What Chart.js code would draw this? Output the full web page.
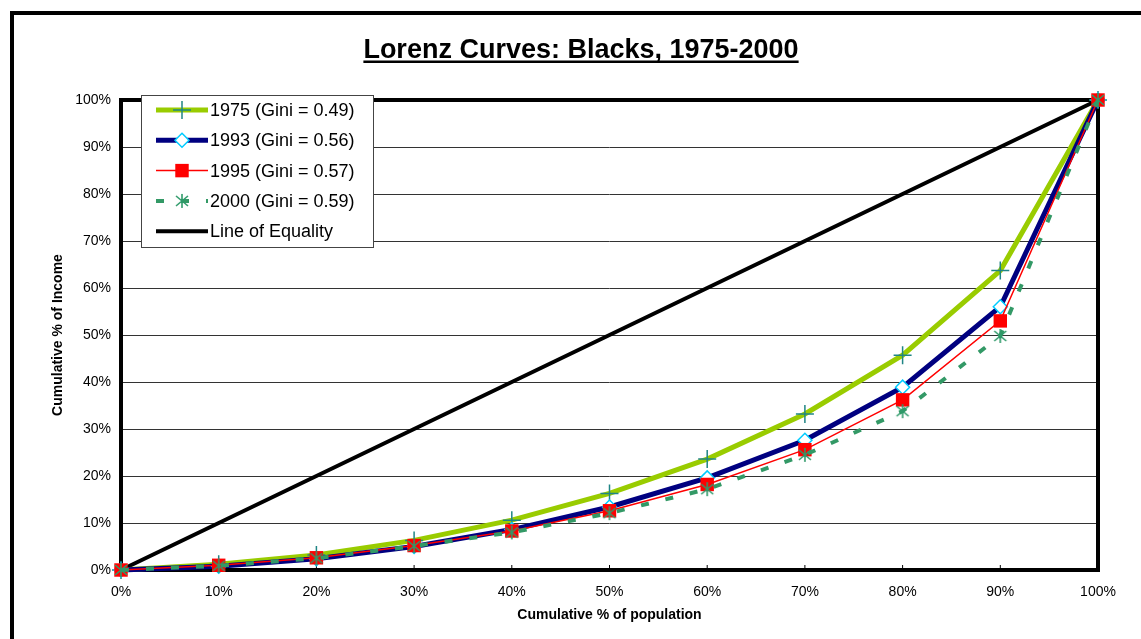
<!DOCTYPE html>
<html>
<head>
<meta charset="utf-8">
<script src="https://cdn.jsdelivr.net/npm/chart.js@4.4.0/dist/chart.umd.min.js"></script>
<style>
  html, body { margin: 0; padding: 0; background: #fff; }
  #wrap { width: 1141px; height: 639px; position: relative; }
</style>
</head>
<body>
<div id="wrap"><canvas id="lorenzChart" width="1141" height="639"></canvas></div>
<script>
const population = ['0%', '10%', '20%', '30%', '40%', '50%', '60%', '70%', '80%', '90%', '100%'];
const popValues = [0, 10, 20, 30, 40, 50, 60, 70, 80, 90, 100];

// cumulative % of income
const income1975 = [0, 1.2, 3.2, 6.3, 10.6, 16.3, 23.6, 33.2, 45.7, 63.7, 100];
const income1993 = [0, 0.8, 2.4, 5.0, 8.6, 13.4, 19.6, 27.6, 38.9, 56.0, 100];
const income1995 = [0, 1.0, 2.6, 5.2, 8.3, 12.6, 18.2, 25.6, 36.2, 53.0, 100];
const income2000 = [0, 0.9, 2.5, 5.1, 8.0, 12.1, 17.2, 24.5, 33.8, 49.8, 100];
const equality = [0, 10, 20, 30, 40, 50, 60, 70, 80, 90, 100];

const seriesLabels = ['1975 (Gini = 0.49)', '1993 (Gini = 0.56)', '1995 (Gini = 0.57)', '2000 (Gini = 0.59)', 'Line of Equality'];

const toPoints = arr => arr.map((v, i) => ({ x: popValues[i], y: v }));

// Excel style star marker: X plus a vertical bar
function makeStar(color, size) {
  const c = document.createElement('canvas');
  c.width = size; c.height = size;
  const g = c.getContext('2d');
  g.strokeStyle = color;
  g.lineWidth = 1.6;
  const m = size / 2;
  g.beginPath();
  g.moveTo(m, 1); g.lineTo(m, size - 1);
  g.moveTo(2, 3); g.lineTo(size - 2, size - 3);
  g.moveTo(size - 2, 3); g.lineTo(2, size - 3);
  g.stroke();
  return c;
}
const starImg = makeStar('#2f9a6a', 16);

const FONT = 'Arial, "Liberation Sans", sans-serif';

const frame = {
  id: 'frame',
  beforeDatasetsDraw(chart) {
    const { ctx, chartArea: a } = chart;
    ctx.save();
    ctx.strokeStyle = '#000';
    ctx.lineWidth = 4;
    ctx.strokeRect(a.left, a.top, a.right - a.left, a.bottom - a.top);
    // inward tick marks on x axis
    const xs = chart.scales.x;
    ctx.lineWidth = 1;
    popValues.forEach(v => {
      const px = xs.getPixelForValue(v);
      ctx.beginPath();
      ctx.moveTo(px, a.bottom);
      ctx.lineTo(px, a.bottom - 5);
      ctx.stroke();
    });
    ctx.restore();
  },
  afterDraw(chart) {
    const { ctx } = chart;
    ctx.save();
    // outer border
    ctx.strokeStyle = '#000';
    ctx.lineWidth = 4;
    ctx.strokeRect(12, 13, 1200, 700);
    // title
    ctx.fillStyle = '#000';
    ctx.font = 'bold 27px ' + FONT;
    ctx.textAlign = 'center';
    ctx.textBaseline = 'alphabetic';
    const title = 'Lorenz Curves: Blacks, 1975-2000';
    ctx.fillText(title, 581, 58);
    const w = ctx.measureText(title).width;
    ctx.fillRect(581 - w / 2, 60.5, w, 2.5);

    // legend
    const lx = 141, ly = 95, lw = 232, lh = 152;
    ctx.fillStyle = '#fff';
    ctx.fillRect(lx, ly, lw, lh);
    ctx.strokeStyle = '#444';
    ctx.lineWidth = 1;
    ctx.strokeRect(lx + 0.5, ly + 0.5, lw, lh);
    const ds = [1, 2, 3, 4, 0].map(i => chart.data.datasets[i]);
    ctx.font = '18px ' + FONT;
    ctx.textAlign = 'left';
    ctx.textBaseline = 'middle';
    ds.forEach((d, i) => {
      const y = ly + 15 + i * 30.3;
      const cx = 182;
      ctx.save();
      ctx.strokeStyle = d.borderColor;
      ctx.lineWidth = d.borderWidth;
      ctx.setLineDash(d.borderDash || []);
      ctx.beginPath();
      ctx.moveTo(156, y);
      ctx.lineTo(208, y);
      ctx.stroke();
      ctx.restore();
      ctx.save();
      ctx.fillStyle = d.pointBackgroundColor;
      ctx.strokeStyle = d.pointBorderColor;
      ctx.lineWidth = d.pointBorderWidth;
      const r = d.pointRadius;
      if (d.pointStyle === 'cross') {
        ctx.beginPath();
        ctx.moveTo(cx - r, y); ctx.lineTo(cx + r, y);
        ctx.moveTo(cx, y - r); ctx.lineTo(cx, y + r);
        ctx.stroke();
      } else if (d.pointStyle === 'rectRot') {
        ctx.beginPath();
        ctx.moveTo(cx, y - r); ctx.lineTo(cx + r, y); ctx.lineTo(cx, y + r); ctx.lineTo(cx - r, y); ctx.closePath();
        ctx.fill(); ctx.stroke();
      } else if (d.pointStyle === 'rect') {
        const s = r * Math.SQRT1_2;
        ctx.fillRect(cx - s, y - s, 2 * s, 2 * s);
      } else if (d.pointStyle instanceof HTMLCanvasElement) {
        ctx.drawImage(d.pointStyle, cx - 8, y - 8);
      }
      ctx.restore();
      ctx.fillStyle = '#000';
      ctx.fillText(d.label, 210, y + 1);
    });
    ctx.restore();
  }
};

new Chart(document.getElementById('lorenzChart'), {
  type: 'line',
  data: {
    datasets: [
      {
        label: seriesLabels[4],
        data: toPoints(equality),
        borderColor: '#000000',
        borderWidth: 4,
        pointRadius: 0,
        clip: false,
        order: 5
      },
      {
        label: seriesLabels[0],
        data: toPoints(income1975),
        borderColor: '#99cc00',
        borderWidth: 5,
        pointStyle: 'cross',
        pointRadius: 9,
        pointBorderColor: '#1f8585',
        pointBackgroundColor: '#1f8585',
        pointBorderWidth: 1.5,
        clip: false,
        order: 4
      },
      {
        label: seriesLabels[1],
        data: toPoints(income1993),
        borderColor: '#000080',
        borderWidth: 5,
        pointStyle: 'rectRot',
        pointRadius: 7,
        pointBorderColor: '#00ccff',
        pointBackgroundColor: '#ffffff',
        pointBorderWidth: 1.5,
        clip: false,
        order: 3
      },
      {
        label: seriesLabels[2],
        data: toPoints(income1995),
        borderColor: '#ff0000',
        borderWidth: 1.5,
        pointStyle: 'rect',
        pointRadius: 9.5,
        pointBorderColor: '#ff0000',
        pointBackgroundColor: '#ff0000',
        pointBorderWidth: 0,
        clip: false,
        order: 2
      },
      {
        label: seriesLabels[3],
        data: toPoints(income2000),
        borderColor: '#339966',
        borderWidth: 4,
        borderDash: [8, 17],
        pointStyle: starImg,
        pointRadius: 8,
        clip: false,
        order: 1
      }
    ]
  },
  plugins: [frame],
  options: {
    responsive: false,
    animation: false,
    events: [],
    layout: { padding: { left: 50, right: 43, top: 100, bottom: 0 } },
    plugins: {
      legend: { display: false },
      tooltip: { enabled: false }
    },
    elements: { line: { tension: 0 } },
    scales: {
      x: {
        type: 'linear',
        min: 0,
        max: 100,
        afterBuildTicks: s => { s.ticks = popValues.map(v => ({ value: v })); },
        afterFit: s => { s.height = 69; },
        ticks: {
          callback: v => population[popValues.indexOf(v)],
          color: '#000',
          font: { family: FONT, size: 14 },
          padding: 6,
          maxRotation: 0
        },
        grid: { display: false },
        border: { display: false },
        title: {
          display: true,
          text: 'Cumulative % of population',
          color: '#000',
          font: { family: FONT, size: 14, weight: 'bold' },
          padding: { top: 0, bottom: 15 }
        }
      },
      y: {
        min: 0,
        max: 100,
        afterFit: s => { s.width = 71; },
        ticks: {
          stepSize: 10,
          callback: v => v + '%',
          color: '#000',
          font: { family: FONT, size: 14 },
          padding: 10
        },
        grid: { color: '#333', lineWidth: 1, drawTicks: false },
        border: { display: false },
        title: {
          display: true,
          text: 'Cumulative % of Income',
          color: '#000',
          font: { family: FONT, size: 14, weight: 'bold' },
          padding: { top: 0, bottom: 0 }
        }
      }
    }
  }
});
</script>
</body>
</html>
